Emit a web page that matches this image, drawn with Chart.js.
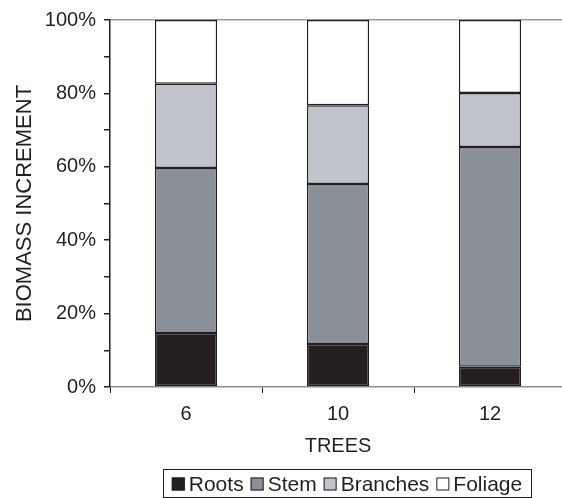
<!DOCTYPE html>
<html>
<head>
<meta charset="utf-8">
<script src="https://cdn.jsdelivr.net/npm/chart.js@4.4.0/dist/chart.umd.min.js"></script>
<style>
    html, body { margin: 0; padding: 0; overflow: hidden; background: #fff; }
    #wrap { width: 566px; height: 498px; }
</style>
</head>
<body>
<div id="wrap"><canvas id="barChart"></canvas></div>
<script>
// data (percent of total biomass increment)
const trees = ['6', '10', '12'];
const roots = [14.7, 11.7, 5.5];
const stem = [45.0, 43.6, 59.9];
const branches = [22.9, 21.5, 14.7];
const foliage = [17.4, 23.2, 19.9];
const seriesNames = ['Roots', 'Stem', 'Branches', 'Foliage'];
const seriesColors = ['#231f20', '#8a9098', '#c0c3ca', '#ffffff'];

const ink = '#231f20';
const fontFamily = "'Liberation Sans', Arial, sans-serif";

// legend with a frame round it, as in the original figure
const boxedLegend = {
    id: 'boxedLegend',
    afterDraw(chart) {
        const ctx = chart.ctx;
        const top = 469, bottom = 497, cx = 347;
        const sq = 13, gapAfterSq = 4, gapItem = 7;
        ctx.save();
        ctx.font = '21px ' + fontFamily;
        const widths = seriesNames.map(n => ctx.measureText(n).width);
        let total = 0;
        widths.forEach((w, i) => { total += sq + gapAfterSq + w + (i < widths.length - 1 ? gapItem : 0); });
        ctx.strokeStyle = ink;
        ctx.lineWidth = 1;
        ctx.strokeRect(163.5, top + 0.5, 531 - 163, bottom - top);
        let x = cx - total / 2;
        const midY = 484;
        seriesNames.forEach((n, i) => {
            ctx.fillStyle = seriesColors[i];
            ctx.fillRect(x, midY - sq / 2, sq, sq);
            ctx.strokeRect(x + 0.5, midY - sq / 2 + 0.5, sq - 1, sq - 1);
            ctx.fillStyle = ink;
            ctx.textBaseline = 'middle';
            ctx.textAlign = 'left';
            ctx.fillText(n, x + sq + gapAfterSq, midY + 1);
            x += sq + gapAfterSq + widths[i] + gapItem;
        });
        ctx.restore();
    }
};

const ctx = document.getElementById('barChart').getContext('2d');
const chart = new Chart(ctx, {
    type: 'bar',
    data: {
        labels: trees,
        datasets: [roots, stem, branches, foliage].map((d, i) => ({
            label: seriesNames[i],
            data: d,
            backgroundColor: seriesColors[i],
            borderColor: ink,
            borderWidth: 1.5,
            borderSkipped: false,
            categoryPercentage: 1,
            barPercentage: 0.41
        }))
    },
    options: {
        responsive: true,
        maintainAspectRatio: false,
        animation: false,
        layout: { padding: { left: 0, right: 0, top: 7, bottom: 40 } },
        plugins: {
            legend: { display: false },
            tooltip: { enabled: false }
        },
        scales: {
            x: {
                stacked: true,
                border: { color: '#8c8c8c', width: 1.5 },
                grid: {
                    offset: true,
                    drawOnChartArea: false,
                    tickLength: 6,
                    tickColor: ink
                },
                ticks: {
                    color: ink,
                    padding: 9.5,
                    font: { family: fontFamily, size: 20 }
                },
                title: {
                    display: true,
                    text: 'TREES',
                    color: ink,
                    padding: { top: -2, bottom: 0 },
                    font: { family: fontFamily, size: 20 }
                }
            },
            y: {
                stacked: true,
                min: 0,
                max: 100,
                afterFit(scale) { scale.width = 110; },
                border: { color: ink, width: 1.5 },
                grid: {
                    color: c => (c.tick && c.tick.value === 100) ? '#999999' : 'rgba(0,0,0,0)',
                    lineWidth: 1.5,
                    tickLength: 6,
                    tickColor: ink
                },
                ticks: {
                    stepSize: 10,
                    autoSkip: false,
                    color: ink,
                    padding: 8,
                    font: { family: fontFamily, size: 20 },
                    callback: v => (v % 20 === 0 ? v + '%' : '')
                },
                title: {
                    display: true,
                    text: 'BIOMASS INCREMENT',
                    color: ink,
                    padding: { top: 12, bottom: 0 },
                    font: { family: fontFamily, size: 22 }
                }
            }
        }
    },
    plugins: [boxedLegend]
});
</script>
</body>
</html>
